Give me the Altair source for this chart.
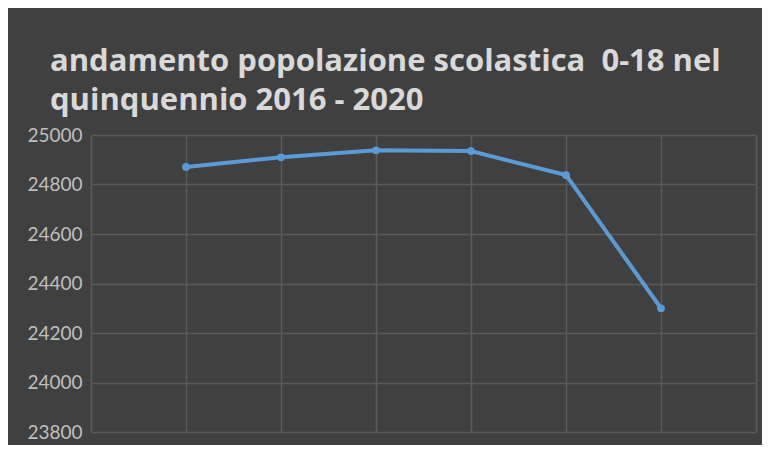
import altair as alt
import pandas as pd

positions = [1, 2, 3, 4, 5, 6]
values = [24871, 24910, 24938, 24935, 24838, 24300]
y_ticks = [23800, 24000, 24200, 24400, 24600, 24800, 25000]
x_ticks = [0, 1, 2, 3, 4, 5, 6, 7]
title_lines = ["andamento popolazione scolastica \u00a00-18 nel", "quinquennio 2016 - 2020"]

df = pd.DataFrame({"pos": positions, "val": values})

base = alt.Chart(df).encode(
    x=alt.X("pos:Q", scale=alt.Scale(domain=[0, 7], nice=False),
            axis=alt.Axis(values=x_ticks, labels=False, ticks=False, domain=False,
                          grid=True, gridColor="#5a5a5a", gridWidth=1.5, title=None)),
    y=alt.Y("val:Q", scale=alt.Scale(domain=[23800, 25000], nice=False, zero=False),
            axis=alt.Axis(values=y_ticks, ticks=False, domain=False, grid=True, format="d",
                          gridColor="#5a5a5a", gridWidth=1.5, title=None,
                          labelColor="#bfbfbf", labelFont="Lato", labelFontSize=19,
                          labelPadding=9)),
)

line = base.mark_line(color="#5b9bd5", strokeWidth=4)
pts = base.mark_circle(color="#5b9bd5", size=60, opacity=1)

chart = (line + pts).properties(
    width=665,
    height=297,
    autosize=alt.AutoSizeParams(type="none"),
    padding={"left": 83, "top": 127, "right": 6, "bottom": 13},
    background="#404040",
    title=alt.TitleParams(
        text=title_lines, anchor="start", frame="group", dx=-41, dy=82, color="#d9d9d9",
        font="Open Sans", fontSize=31, fontWeight="bold", lineHeight=39, offset=67,
        baseline="alphabetic",
    ),
).configure_view(stroke=None)

chart.save("out.html", embed_options={"renderer": "svg", "actions": False})
